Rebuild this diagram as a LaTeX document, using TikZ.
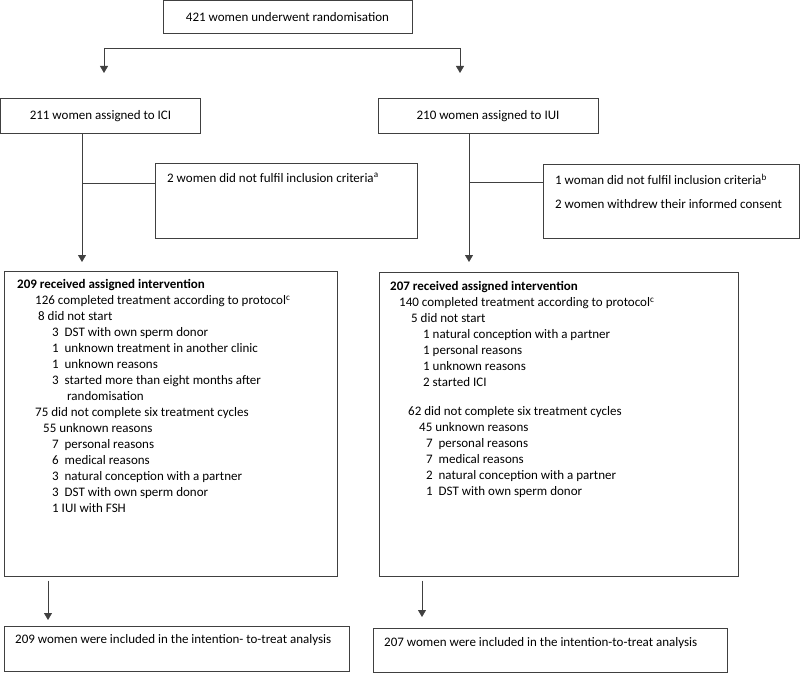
\documentclass[tikz,border=0pt]{standalone}
\usepackage{fontspec}
\setmainfont{Carlito}
\usepackage{tikz}
\usetikzlibrary{arrows.meta}

\tikzset{
  box/.style={draw=black!75, line width=1bp, rectangle, inner sep=0pt},
  link/.style={draw=black!75, line width=0.8bp},
  arr/.style={link, -{Triangle[width=8bp,length=7bp]}},
  txt/.style={align=left, inner sep=0pt, anchor=north west, font=\fontsize{13bp}{16bp}\selectfont},
}

\begin{document}
\begin{tikzpicture}[x=1bp,y=-1bp,font=\fontsize{13bp}{16bp}\selectfont]
    \useasboundingbox (0,0) rectangle (800,674);

    % Randomisation and the two arms
    \node[box, minimum width=249bp, minimum height=33bp] (rand) at (287.5,17) {421 women underwent randomisation};
    \node[box, minimum width=199bp, minimum height=34bp] (ici) at (100.5,116) {211 women assigned to ICI};
    \node[box, minimum width=220bp, minimum height=34bp] (iui) at (488,116) {210 women assigned to IUI};

    % Split arrows
    \coordinate (splitL) at (104,48);
    \coordinate (splitR) at (460,48);
    \coordinate (tipL) at (104,73);
    \coordinate (tipR) at (460,73);
    \draw[link] (splitL) -- (splitR);
    \draw[arr] (splitL) -- (tipL);
    \draw[arr] (splitR) -- (tipR);

    % Exclusions
    \node[box, minimum width=262bp, minimum height=74bp] (exclL) at (286,201) {};
    \node[txt] (exclLtxt) at (167,173) {2 women did not fulfil inclusion criteria\textsuperscript{a}};
    \node[box, minimum width=256bp, minimum height=73bp] (exclR) at (671,201.5) {};
    \node[txt] (exclRtxt) at (555,174) {1 woman did not fulfil inclusion criteria\textsuperscript{b}\\[8bp]
      2 women withdrew their informed consent};

    % Arm lines down to the intervention boxes
    \coordinate (iciDown) at (82,262);
    \coordinate (iciJoin) at (82,183);
    \draw[arr] (ici.south -| iciDown) -- (iciDown);
    \draw[link] (iciJoin) -- (iciJoin -| exclL.west);
    \coordinate (iuiDown) at (469,262);
    \coordinate (iuiJoin) at (469,182);
    \draw[arr] (iui.south -| iuiDown) -- (iuiDown);
    \draw[link] (iuiJoin) -- (iuiJoin -| exclR.west);

    % Received intervention
    \node[box, minimum width=332bp, minimum height=305bp] (recL) at (171,423.5) {};
    \node[txt] (recLtxt) at (17,279) {\textbf{209 received assigned intervention}\\
      \hspace*{18bp}126 completed treatment according to protocol\textsuperscript{c}\\
      \hspace*{21bp}8 did not start\\
      \hspace*{35bp}3~~DST with own sperm donor\\
      \hspace*{35bp}1~~unknown treatment in another clinic\\
      \hspace*{35bp}1~~unknown reasons\\
      \hspace*{35bp}3~~started more than eight months after\\
      \hspace*{50bp}randomisation\\
      \hspace*{18bp}75 did not complete six treatment cycles\\
      \hspace*{26bp}55 unknown reasons\\
      \hspace*{35bp}7~~personal reasons\\
      \hspace*{35bp}6~~medical reasons\\
      \hspace*{35bp}3~~natural conception with a partner\\
      \hspace*{35bp}3~~DST with own sperm donor\\
      \hspace*{35bp}1 IUI with FSH};
    \node[box, minimum width=359bp, minimum height=304bp] (recR) at (558.5,424) {};
    \node[txt] (recRtxt) at (390,281) {\textbf{207 received assigned intervention}\\
      \hspace*{9bp}140 completed treatment according to protocol\textsuperscript{c}\\
      \hspace*{21bp}5 did not start\\
      \hspace*{33bp}1 natural conception with a partner\\
      \hspace*{33bp}1 personal reasons\\
      \hspace*{33bp}1 unknown reasons\\
      \hspace*{33bp}2 started ICI\\[13bp]
      \hspace*{18bp}62 did not complete six treatment cycles\\
      \hspace*{29bp}45 unknown reasons\\
      \hspace*{36bp}7~~personal reasons\\
      \hspace*{36bp}7~~medical reasons\\
      \hspace*{36bp}2~~natural conception with a partner\\
      \hspace*{36bp}1~~DST with own sperm donor};

    % Intention-to-treat
    \node[box, minimum width=344bp, minimum height=45bp] (ittL) at (177,648.5) {};
    \node[txt] (ittLtxt) at (15,634) {209 women were included in the intention- to-treat analysis};
    \node[box, minimum width=354bp, minimum height=44bp] (ittR) at (550,650) {};
    \node[txt] (ittRtxt) at (384,637) {207 women were included in the intention-to-treat analysis};
    \coordinate (ittLtip) at (48,620);
    \coordinate (ittRtip) at (422,617);
    \draw[arr, shorten <=4bp] (recL.south -| ittLtip) -- (ittLtip);
    \draw[arr, shorten <=4bp] (recR.south -| ittRtip) -- (ittRtip);
\end{tikzpicture}
\end{document}
